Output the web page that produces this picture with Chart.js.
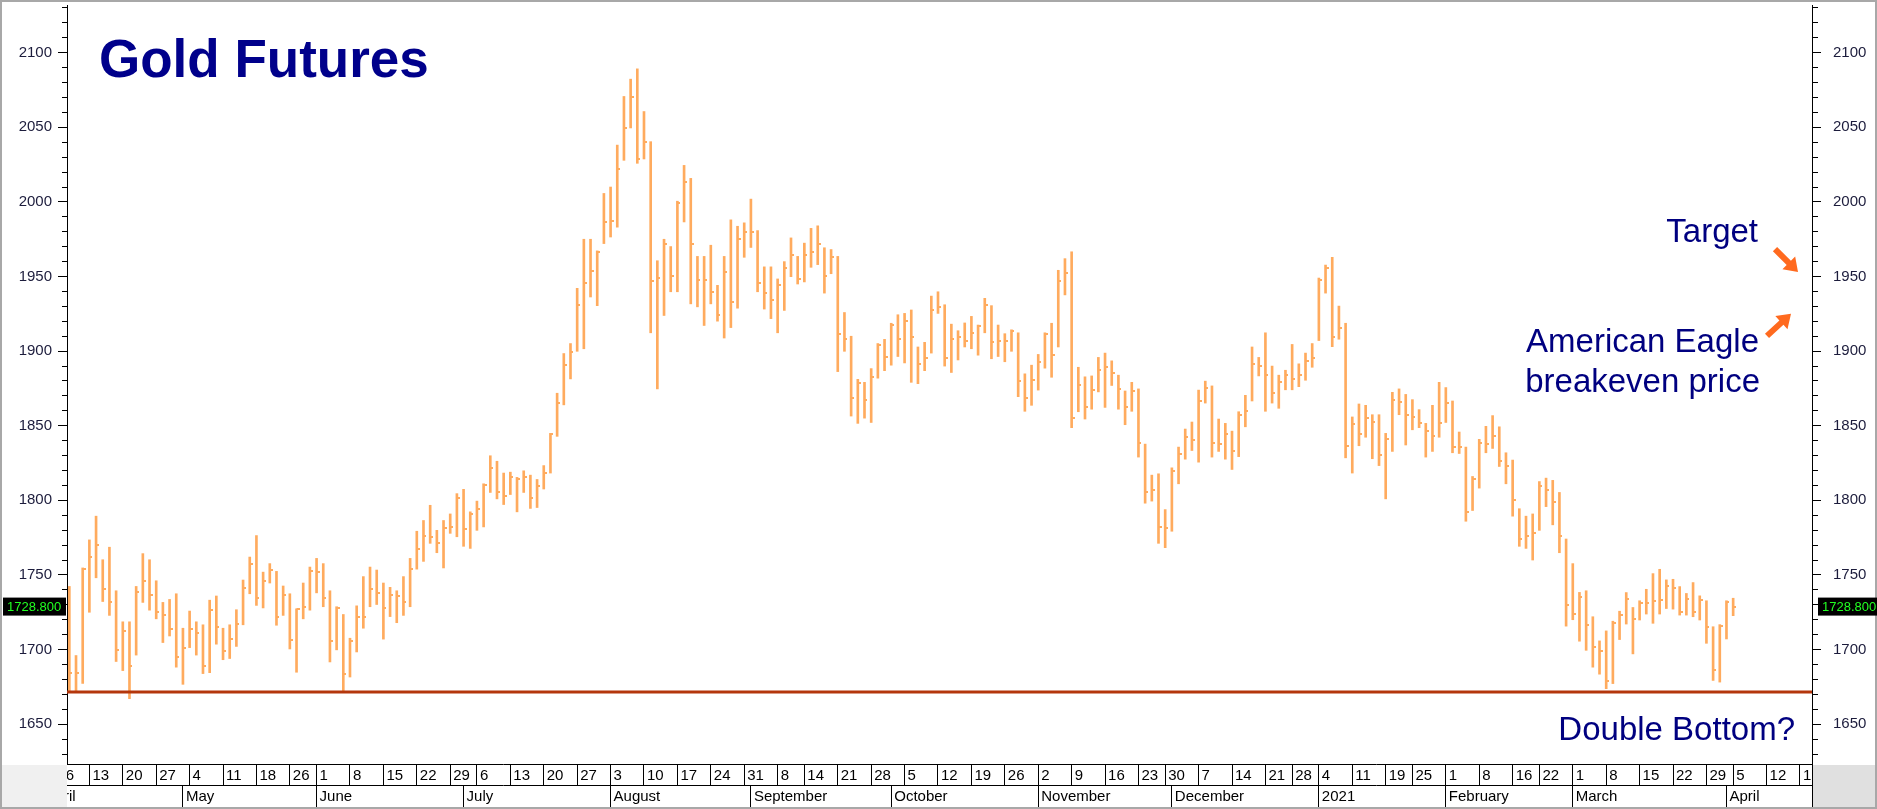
<!DOCTYPE html>
<html>
<head>
<meta charset="utf-8">
<title>Gold Futures</title>
<script src="https://cdn.jsdelivr.net/npm/chart.js@4.4.1/dist/chart.umd.min.js"></script>
<style>
  html, body { margin: 0; padding: 0; background: #fff; }
  #wrap { position: relative; width: 1877px; height: 809px; }
</style>
</head>
<body>
<div id="wrap"><canvas id="goldChart"></canvas></div>
<script>
// Daily bars, 7 Apr 2020 .. 5 Apr 2021. x value = trading day number.
const high = [
  1742.3, 1696.0, 1754.7, 1773.5, 1789.4, 1760.2, 1768.6, 1739.4, 1718.6, 1718.6,
  1742.3, 1764.3, 1760.2, 1746.1, 1731.6, 1733.6, 1737.4, 1714.3, 1725.8, 1718.6,
  1716.6, 1733.1, 1735.9, 1714.3, 1716.6, 1726.7, 1746.6, 1762.0, 1776.4, 1751.9,
  1757.6, 1752.4, 1742.6, 1737.4, 1727.3, 1744.6, 1755.3, 1761.1, 1757.6, 1739.4,
  1728.7, 1723.5, 1707.6, 1729.3, 1748.9, 1755.3, 1753.3, 1744.6, 1741.7, 1739.4,
  1748.9, 1761.1, 1779.3, 1786.5, 1796.7, 1779.9, 1786.5, 1790.9, 1804.5, 1807.4,
  1792.3, 1799.5, 1811.1, 1829.9, 1826.2, 1818.3, 1818.9, 1815.4, 1819.8, 1816.9,
  1814.0, 1823.3, 1844.9, 1871.8, 1898.4, 1905.1, 1942.1, 1975.0, 1975.0, 1967.2,
  2005.7, 2010.0, 2038.1, 2070.7, 2082.3, 2089.2, 2060.6, 2040.4, 1960.6, 1975.0,
  1970.1, 2000.5, 2024.5, 2015.8, 1963.5, 1963.5, 1971.0, 1944.1, 1963.5, 1988.0,
  1983.7, 1986.0, 2001.9, 1980.8, 1956.5, 1956.5, 1948.4, 1960.0, 1975.9, 1963.5,
  1972.4, 1982.3, 1984.0, 1969.3, 1968.1, 1963.5, 1925.9, 1910.0, 1881.1, 1879.1,
  1888.3, 1905.1, 1907.9, 1918.7, 1924.4, 1925.3, 1927.6, 1902.8, 1905.9, 1936.9,
  1939.8, 1931.1, 1918.1, 1913.7, 1918.9, 1923.3, 1917.5, 1935.4, 1930.5, 1917.5,
  1911.7, 1914.3, 1912.3, 1884.8, 1890.6, 1897.8, 1912.3, 1918.7, 1954.2, 1962.0,
  1966.6, 1889.2, 1882.8, 1883.4, 1895.8, 1898.7, 1893.5, 1883.9, 1873.3, 1879.1,
  1874.7, 1837.7, 1816.9, 1817.8, 1793.8, 1821.8, 1835.7, 1847.8, 1852.5, 1873.9,
  1879.9, 1876.7, 1854.5, 1851.6, 1846.4, 1859.4, 1870.4, 1902.8, 1895.8, 1912.3,
  1890.0, 1883.9, 1887.2, 1904.5, 1891.5, 1898.7, 1905.1, 1949.0, 1957.7, 1962.9,
  1930.2, 1918.7, 1855.9, 1864.6, 1863.7, 1857.4, 1857.4, 1844.9, 1872.4, 1874.7,
  1871.0, 1867.5, 1860.8, 1851.6, 1863.7, 1879.1, 1875.6, 1866.6, 1845.8, 1835.7,
  1816.0, 1840.9, 1849.6, 1856.8, 1849.3, 1831.9, 1827.0, 1794.4, 1789.4, 1790.9,
  1812.6, 1814.9, 1813.4, 1805.3, 1774.1, 1757.6, 1738.3, 1739.4, 1722.0, 1705.8,
  1712.5, 1719.0, 1725.7, 1738.2, 1728.2, 1732.7, 1740.4, 1750.9, 1753.8, 1746.7,
  1747.1, 1742.2, 1737.6, 1744.9, 1736.0, 1732.7, 1715.3, 1716.7, 1732.7, 1734.4
];
const low = [
  1672.4, 1672.4, 1677.3, 1725.0, 1748.1, 1732.2, 1722.9, 1692.0, 1685.9, 1667.1,
  1696.3, 1731.6, 1726.4, 1720.6, 1704.7, 1709.1, 1688.2, 1676.7, 1701.3, 1696.3,
  1683.9, 1684.5, 1703.6, 1693.2, 1694.0, 1702.1, 1716.6, 1737.4, 1729.6, 1727.9,
  1744.6, 1716.3, 1722.9, 1700.4, 1684.8, 1720.6, 1726.4, 1738.0, 1728.7, 1691.7,
  1699.8, 1672.4, 1681.6, 1698.4, 1714.3, 1728.7, 1730.2, 1707.0, 1722.1, 1718.0,
  1722.9, 1728.7, 1753.9, 1759.1, 1771.2, 1764.9, 1754.7, 1777.9, 1775.6, 1769.2,
  1767.8, 1779.9, 1782.2, 1805.3, 1801.0, 1797.2, 1803.9, 1792.3, 1805.3, 1794.6,
  1795.2, 1807.6, 1818.3, 1842.9, 1864.0, 1881.4, 1899.9, 1901.6, 1936.3, 1930.5,
  1972.1, 1976.5, 1983.1, 2027.9, 2049.6, 2025.9, 2028.8, 1912.3, 1874.7, 1923.9,
  1939.8, 1939.8, 1986.6, 1931.7, 1929.7, 1917.2, 1931.7, 1920.1, 1908.8, 1915.8,
  1928.8, 1962.9, 1969.5, 1939.8, 1928.2, 1921.8, 1912.3, 1927.3, 1949.9, 1945.0,
  1946.4, 1956.2, 1958.0, 1938.9, 1951.9, 1886.3, 1899.9, 1856.5, 1851.6, 1855.1,
  1852.2, 1881.9, 1886.9, 1890.6, 1896.4, 1892.1, 1879.1, 1878.2, 1886.9, 1898.7,
  1925.3, 1890.0, 1885.7, 1894.1, 1902.8, 1901.6, 1897.3, 1912.3, 1894.9, 1896.4,
  1892.9, 1899.9, 1869.5, 1859.7, 1863.7, 1873.9, 1888.6, 1882.5, 1902.8, 1937.7,
  1848.7, 1859.4, 1854.5, 1861.1, 1872.7, 1862.3, 1877.0, 1861.1, 1850.7, 1859.7,
  1829.0, 1798.1, 1799.5, 1771.2, 1768.3, 1779.3, 1811.1, 1827.6, 1833.4, 1825.6,
  1865.2, 1829.0, 1832.8, 1827.6, 1820.7, 1829.3, 1849.3, 1866.6, 1883.4, 1859.7,
  1865.2, 1861.7, 1874.1, 1874.1, 1876.2, 1880.5, 1889.2, 1907.1, 1938.9, 1903.0,
  1908.0, 1828.5, 1818.3, 1836.6, 1842.3, 1827.9, 1823.3, 1801.0, 1832.8, 1857.4,
  1837.1, 1847.3, 1848.7, 1829.0, 1832.8, 1842.3, 1852.2, 1831.9, 1831.4, 1786.0,
  1793.2, 1808.2, 1831.9, 1834.8, 1822.7, 1811.1, 1789.4, 1769.2, 1767.8, 1760.0,
  1779.9, 1795.8, 1783.6, 1764.9, 1715.7, 1720.0, 1705.6, 1699.5, 1688.2, 1683.5,
  1673.8, 1677.2, 1706.7, 1717.1, 1697.1, 1719.8, 1723.8, 1717.6, 1723.8, 1727.5,
  1727.1, 1723.1, 1723.1, 1722.0, 1719.8, 1704.2, 1679.3, 1678.2, 1707.1, 1722.7
];
const close = [
  1684.5, 1684.5, 1753.9, 1762.0, 1769.8, 1740.3, 1732.2, 1699.8, 1712.2, 1688.8,
  1738.9, 1746.1, 1736.5, 1725.0, 1722.9, 1713.7, 1694.9, 1701.3, 1713.7, 1711.4,
  1688.8, 1726.4, 1714.8, 1699.0, 1707.0, 1717.2, 1741.2, 1757.1, 1734.5, 1746.1,
  1753.3, 1722.1, 1736.5, 1706.2, 1727.3, 1728.7, 1752.7, 1751.9, 1734.5, 1705.6,
  1727.9, 1683.9, 1705.6, 1722.1, 1721.5, 1740.3, 1738.0, 1727.9, 1736.8, 1736.0,
  1732.2, 1753.9, 1767.2, 1776.4, 1775.6, 1771.2, 1781.3, 1782.2, 1801.9, 1780.8,
  1790.9, 1794.3, 1810.5, 1821.8, 1805.3, 1803.0, 1815.4, 1814.0, 1815.4, 1801.9,
  1809.7, 1818.3, 1844.4, 1865.5, 1890.6, 1899.3, 1931.1, 1945.5, 1953.6, 1966.6,
  1986.6, 1987.5, 2022.2, 2049.6, 2070.4, 2028.5, 2040.1, 1947.0, 1949.3, 1971.6,
  1950.5, 1999.6, 2013.5, 1971.6, 1947.6, 1947.9, 1939.8, 1923.9, 1952.8, 1933.1,
  1975.3, 1979.7, 1979.7, 1945.5, 1938.9, 1934.6, 1944.1, 1955.7, 1964.3, 1948.4,
  1964.3, 1966.6, 1971.6, 1950.5, 1962.9, 1911.4, 1907.9, 1868.9, 1878.5, 1867.5,
  1882.8, 1904.2, 1896.4, 1917.5, 1907.9, 1920.4, 1909.4, 1891.2, 1895.5, 1927.3,
  1929.6, 1895.5, 1907.9, 1909.4, 1907.1, 1912.3, 1916.6, 1931.1, 1905.9, 1906.5,
  1906.5, 1913.2, 1879.9, 1868.9, 1880.5, 1892.9, 1911.4, 1897.3, 1947.0, 1952.2,
  1855.1, 1877.0, 1862.3, 1873.9, 1887.2, 1889.2, 1885.4, 1874.7, 1862.3, 1873.3,
  1838.6, 1805.3, 1806.8, 1782.2, 1781.3, 1819.8, 1830.8, 1842.3, 1840.6, 1866.6,
  1875.6, 1838.6, 1837.7, 1844.4, 1832.8, 1857.4, 1859.7, 1891.5, 1889.8, 1883.9,
  1871.8, 1879.1, 1884.0, 1881.4, 1884.0, 1893.5, 1895.5, 1947.6, 1955.7, 1909.4,
  1915.2, 1836.6, 1851.0, 1844.4, 1855.1, 1852.2, 1830.5, 1840.9, 1867.5, 1866.0,
  1857.4, 1855.9, 1851.6, 1846.4, 1842.9, 1851.6, 1865.5, 1835.7, 1835.7, 1792.3,
  1814.0, 1838.6, 1837.7, 1842.9, 1826.2, 1823.3, 1800.1, 1774.1, 1775.8, 1778.4,
  1809.7, 1806.8, 1799.0, 1776.4, 1729.6, 1723.8, 1734.9, 1716.2, 1701.5, 1699.0,
  1679.2, 1717.7, 1723.2, 1734.2, 1720.4, 1730.9, 1730.9, 1732.7, 1733.1, 1742.7,
  1741.1, 1725.3, 1733.8, 1725.3, 1733.1, 1715.3, 1686.0, 1716.0, 1731.6, 1728.8
];

// first trading day of each week / month (trading day number) and its label
const weekIdx = [-1, 3, 8, 13, 18, 23, 28, 33, 37, 42, 47, 52, 57, 61, 66, 71, 76, 81, 86, 91,
  96, 101, 106, 110, 115, 120, 125, 130, 135, 140, 145, 150, 155, 160, 164, 169, 174, 179, 183,
  187, 192, 197, 201, 206, 211, 216, 220, 225, 230, 235, 240, 245, 249, 254, 259];
const weekLabels = ['6', '13', '20', '27', '4', '11', '18', '26', '1', '8', '15', '22', '29', '6',
  '13', '20', '27', '3', '10', '17', '24', '31', '8', '14', '21', '28', '5', '12', '19', '26', '2',
  '9', '16', '23', '30', '7', '14', '21', '28', '4', '11', '19', '25', '1', '8', '16', '22', '1',
  '8', '15', '22', '29', '5', '12', '19'];
const monthIdx = [-4, 17, 37, 59, 81, 102, 123, 145, 165, 187, 206, 225, 248];
const monthLabels = ['April', 'May', 'June', 'July', 'August', 'September', 'October',
  'November', 'December', '2021', 'February', 'March', 'April'];

const priceLabels = [1650, 1700, 1750, 1800, 1850, 1900, 1950, 2000, 2050, 2100];
const supportLevel = 1671.5;
const targetPrice = 1953;
const breakevenPrice = 1925;

const FONT = '"Liberation Sans", Arial, Helvetica, sans-serif';
const barColor = '#ffab5e';
const xMin = -0.35, xMax = 260.8;
const yMin = 1623.3, yMax = 2132;

const minorTicks = [];
for (let v = 1630; v <= 2130; v += 10) minorTicks.push(v);

// small right-hand tick used as the close marker
const closeTick = document.createElement('canvas');
closeTick.width = 6;
closeTick.height = 2;
const tctx = closeTick.getContext('2d');
tctx.fillStyle = barColor;
tctx.fillRect(3, 0, 3, 2);

function fixSize(size, vertical) {
  return function (scale) {
    if (vertical) scale.width = size; else scale.height = size;
    scale.paddingTop = scale.paddingBottom = scale.paddingLeft = scale.paddingRight = 0;
  };
}

function priceAxis(position) {
  const left = position === 'left';
  return {
    type: 'linear', position: position, min: yMin, max: yMax, bounds: 'data',
    beginAtZero: false,
    afterBuildTicks: s => { s.ticks = minorTicks.map(v => ({ value: v })); },
    afterFit: fixSize(left ? 67 : 65, true),
    border: { display: true, color: '#000', width: 1 },
    grid: {
      drawOnChartArea: false, tickLength: 9, tickColor: '#000', tickWidth: 1,
      tickBorderDash: c => (c.tick && c.tick.value % 50 === 0) ? [] : (left ? [0, 4, 5, 30] : [5, 30])
    },
    ticks: {
      autoSkip: false, padding: left ? 6 : 12, color: '#1c1c3c', font: { family: FONT, size: 15 },
      callback: v => priceLabels.includes(v) ? String(v) : ''
    }
  };
}

function dateAxis(idx, labels, h, pad, weight) {
  return {
    type: 'linear', position: 'bottom', min: xMin, max: xMax, bounds: 'data', weight: weight,
    offset: false,
    afterBuildTicks: s => { s.ticks = idx.map(v => ({ value: v })); },
    afterFit: fixSize(h, false),
    border: { display: true, color: '#000', width: 1 },
    grid: { offset: false, drawOnChartArea: false, tickLength: h, tickColor: '#000', tickWidth: 1 },
    ticks: {
      autoSkip: false, maxRotation: 0, minRotation: 0, align: 'start', labelOffset: 3,
      padding: pad, color: '#000', font: { family: FONT, size: 15 },
      callback: (v, i) => labels[i]
    }
  };
}

function drawArrow(ctx, x1, y1, x2, y2) {
  const ang = Math.atan2(y2 - y1, x2 - x1);
  const len = Math.hypot(x2 - x1, y2 - y1);
  ctx.save();
  ctx.translate(x1, y1);
  ctx.rotate(ang);
  ctx.beginPath();
  ctx.moveTo(0, -3);
  ctx.lineTo(len - 13, -3);
  ctx.lineTo(len - 13, -9);
  ctx.lineTo(len, 0);
  ctx.lineTo(len - 13, 9);
  ctx.lineTo(len - 13, 3);
  ctx.lineTo(0, 3);
  ctx.closePath();
  ctx.fill();
  ctx.restore();
}

function priceTag(ctx, x, w, y, text) {
  ctx.fillStyle = '#000';
  ctx.fillRect(x, y - 9, w, 18);
  ctx.fillStyle = '#22ff22';
  ctx.font = '13px ' + FONT;
  ctx.textAlign = 'left';
  ctx.textBaseline = 'middle';
  ctx.fillText(text, x + 4, y + 1);
}

const decor = {
  id: 'decor',
  beforeDraw(chart) {
    const { ctx, width, height } = chart;
    ctx.save();
    ctx.fillStyle = '#fff';
    ctx.fillRect(0, 0, width, height);
    ctx.restore();
  },
  afterDraw(chart) {
    const { ctx, width, height, chartArea: a } = chart;
    const ys = chart.scales.y;
    ctx.save();

    // clip the date strip to the plot width
    ctx.fillStyle = '#f0f0f0';
    ctx.fillRect(0, a.bottom + 1, a.left, height - a.bottom);
    ctx.fillStyle = '#e0e0e0';
    ctx.fillRect(a.right + 1, a.bottom + 1, width - a.right, height - a.bottom);
    ctx.strokeStyle = '#000';
    ctx.lineWidth = 1;
    ctx.beginPath();
    ctx.moveTo(a.left, 807.5);
    ctx.lineTo(a.right + 1, 807.5);
    ctx.moveTo(a.right + 0.5, a.bottom);
    ctx.lineTo(a.right + 0.5, 808);
    ctx.stroke();

    // outer frame
    ctx.strokeStyle = '#a8a8a8';
    ctx.lineWidth = 2;
    ctx.strokeRect(1, 1, width - 2, height - 2);

    // title
    ctx.fillStyle = '#00008b';
    ctx.font = 'bold 53px ' + FONT;
    ctx.textAlign = 'left';
    ctx.textBaseline = 'alphabetic';
    ctx.fillText('Gold Futures', 99, 77);

    // notes
    ctx.fillStyle = '#000080';
    ctx.font = '33px ' + FONT;
    ctx.textAlign = 'right';
    ctx.fillText('Target', a.right - 54, 242);
    ctx.fillText('American Eagle', a.right - 53, 352);
    ctx.fillText('breakeven price', a.right - 52, 392);
    ctx.fillText('Double Bottom?', a.right - 17, 740);

    // arrows
    ctx.fillStyle = '#ff6a1f';
    const tY = ys.getPixelForValue(targetPrice);
    drawArrow(ctx, a.right - 37, tY - 23, a.right - 14, tY);
    const bY = ys.getPixelForValue(breakevenPrice);
    drawArrow(ctx, a.right - 45, bY + 22, a.right - 21, bY);

    // last price tags
    const last = close[close.length - 1];
    const lY = ys.getPixelForValue(last);
    priceTag(ctx, 3, 63, lY, last.toFixed(3));
    priceTag(ctx, a.right + 6, width - a.right - 6, lY, last.toFixed(3));

    ctx.restore();
  }
};

new Chart(document.getElementById('goldChart'), {
  type: 'bar',
  data: {
    datasets: [
      {
        type: 'line',
        data: [{ x: xMin, y: supportLevel }, { x: xMax, y: supportLevel }],
        borderColor: '#b4360c', borderWidth: 3, pointRadius: 0, order: 0
      },
      {
        type: 'scatter',
        data: close.map((c, i) => ({ x: i, y: c })),
        pointStyle: closeTick, pointRadius: 2, order: 1
      },
      {
        type: 'bar',
        data: high.map((h, i) => ({ x: i, y: [low[i], h] })),
        backgroundColor: barColor, barThickness: 2, grouped: false, order: 2
      }
    ]
  },
  options: {
    responsive: true,
    maintainAspectRatio: false,
    animation: false,
    layout: { padding: { top: 1, bottom: 2, left: 0, right: 0 } },
    plugins: { legend: { display: false }, tooltip: { enabled: false } },
    scales: {
      x: dateAxis(weekIdx, weekLabels, 21, -18, 0),
      x2: dateAxis(monthIdx, monthLabels, 22, -19, 1),
      y: priceAxis('left'),
      y2: priceAxis('right')
    }
  },
  plugins: [decor]
});
</script>
</body>
</html>
